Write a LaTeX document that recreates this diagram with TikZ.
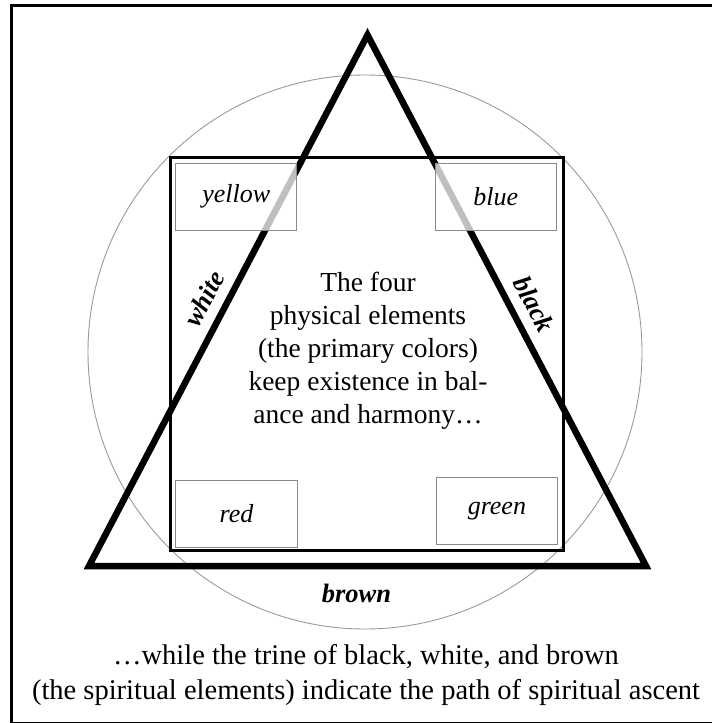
\documentclass[tikz,border=0pt]{standalone}
\usepackage{fontspec}
\setmainfont{Liberation Serif}
\definecolor{boxgray}{HTML}{8A8A8A}
\definecolor{circgray}{HTML}{9A9A9A}
\begin{document}
\begin{tikzpicture}[x=1pt,y=-1pt,
  frame/.style={line width=2.6pt},
  tri/.style={line width=6.5pt, line join=miter},
  sq/.style={line width=3pt, line join=miter},
  ring/.style={draw=circgray, line width=0.9pt},
  colbox/.style={draw=boxgray, line width=1pt, fill=white, fill opacity=0.75, text opacity=1,
                 inner sep=0pt, font=\fontsize{26}{30}\selectfont\itshape},
  sidelabel/.style={font=\fontsize{26.5}{30}\selectfont\bfseries\itshape, inner sep=0pt},
  bodytext/.style={align=center, inner sep=0pt}
]
\useasboundingbox (0,0) rectangle (712,723);
\clip (0,0) rectangle (712,723);
% outer frame
\draw[frame] (11.5,5.5) rectangle (716,723.6);
% circle
\coordinate (O) at (365,352);
\draw[ring] (O) circle[radius=277];
% triangle
\coordinate (A) at (367.5,35);
\coordinate (B) at (89,566);
\coordinate (C) at (646,566);
\draw[tri] (A) -- (B) -- (C) -- cycle;
% colour boxes
\node[colbox, minimum width=120.7pt, minimum height=66.7pt] (yellow) at (236.3,196.7) {yellow};
\node[colbox, minimum width=120.7pt, minimum height=66.7pt] (blue) at (495.7,196.7) {blue};
\node[colbox, minimum width=121.6pt, minimum height=67.3pt] (red) at (236.5,513.7) {red};
\node[colbox, minimum width=121.7pt, minimum height=67pt] (green) at (496.9,510.8) {green};
% square
\draw[sq] (170,157.5) rectangle (563,550);
% side labels
\path (B) -- (A) node[sidelabel, pos=0.484, sloped, above=13pt] (white) {white};
\path (A) -- (C) node[sidelabel, pos=0.527, sloped, above=13pt] (black) {black};
\node[sidelabel, anchor=base] (brown) at (356.5,602.7) {brown};
% texts
\node[bodytext, font=\fontsize{27.5}{33}\selectfont] (centre) at (368,351)
  {The four\\physical elements\\(the primary colors)\\keep existence in bal-\\ance and harmony…};
\node[bodytext, font=\fontsize{28.5}{35}\selectfont] (caption) at (366,675)
  {…while the trine of black, white, and brown\\(the spiritual elements) indicate the path of spiritual ascent};
\end{tikzpicture}
\end{document}
